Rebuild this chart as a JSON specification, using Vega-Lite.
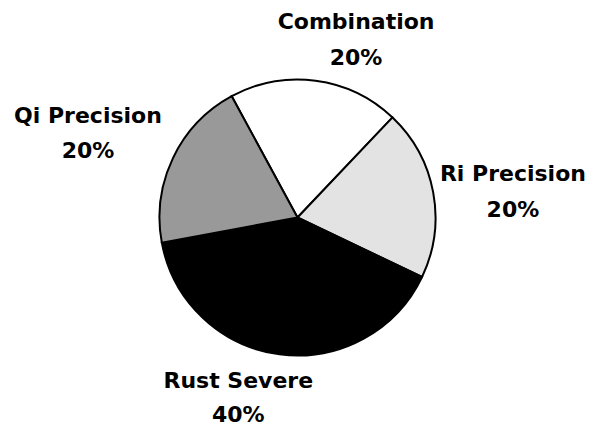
{
  "$schema": "https://vega.github.io/schema/vega-lite/v6.json",
  "width": 587,
  "height": 415,
  "autosize": {"type": "none"},
  "padding": {"left": 4, "top": 10, "right": 0, "bottom": 0},
  "background": "white",
  "view": {"stroke": null},
  "data": {
    "values": [
      {"category": "Combination", "percent": 20, "rank": 1, "label": ["Combination", "20%"]},
      {"category": "Ri Precision", "percent": 20, "rank": 2, "label": ["Ri Precision", "20%"]},
      {"category": "Rust Severe", "percent": 40, "rank": 3, "label": ["Rust Severe", "40%"]},
      {"category": "Qi Precision", "percent": 20, "rank": 4, "label": ["Qi Precision", "20%"]}
    ]
  },
  "encoding": {
    "theta": {"field": "percent", "type": "quantitative", "stack": true, "scale": {"range": [-0.497, 5.786]}},
    "order": {"field": "rank", "type": "quantitative"},
    "detail": {"field": "category", "type": "nominal"}
  },
  "layer": [
    {
      "mark": {"type": "arc", "outerRadius": 138, "stroke": "black", "strokeWidth": 2},
      "encoding": {
        "color": {
          "field": "category",
          "type": "nominal",
          "scale": {
            "domain": ["Combination", "Ri Precision", "Rust Severe", "Qi Precision"],
            "range": ["#ffffff", "#e3e3e3", "#000000", "#999999"]
          },
          "legend": null
        }
      }
    },
    {
      "mark": {"type": "text", "radius": 180, "dx": 35, "dy": -17, "font": "DejaVu Sans", "fontWeight": "bold", "fontSize": 22, "lineHeight": 36, "align": "center", "baseline": "middle", "color": "black"},
      "encoding": {
        "text": {"condition": {"test": "datum.category === 'Combination'", "field": "label", "type": "nominal"}, "value": ""}
      }
    },
    {
      "mark": {"type": "text", "radius": 215, "dx": 4, "dy": -4, "font": "DejaVu Sans", "fontWeight": "bold", "fontSize": 22, "lineHeight": 36, "align": "center", "baseline": "middle", "color": "black"},
      "encoding": {
        "text": {"condition": {"test": "datum.category === 'Ri Precision'", "field": "label", "type": "nominal"}, "value": ""}
      }
    },
    {
      "mark": {"type": "text", "radius": 185, "dx": -35, "dy": -20, "font": "DejaVu Sans", "fontWeight": "bold", "fontSize": 22, "lineHeight": 34, "align": "center", "baseline": "middle", "color": "black"},
      "encoding": {
        "text": {"condition": {"test": "datum.category === 'Rust Severe'", "field": "label", "type": "nominal"}, "value": ""}
      }
    },
    {
      "mark": {"type": "text", "radius": 220, "dx": -11, "dy": -7, "font": "DejaVu Sans", "fontWeight": "bold", "fontSize": 22, "lineHeight": 35, "align": "center", "baseline": "middle", "color": "black"},
      "encoding": {
        "text": {"condition": {"test": "datum.category === 'Qi Precision'", "field": "label", "type": "nominal"}, "value": ""}
      }
    }
  ]
}
